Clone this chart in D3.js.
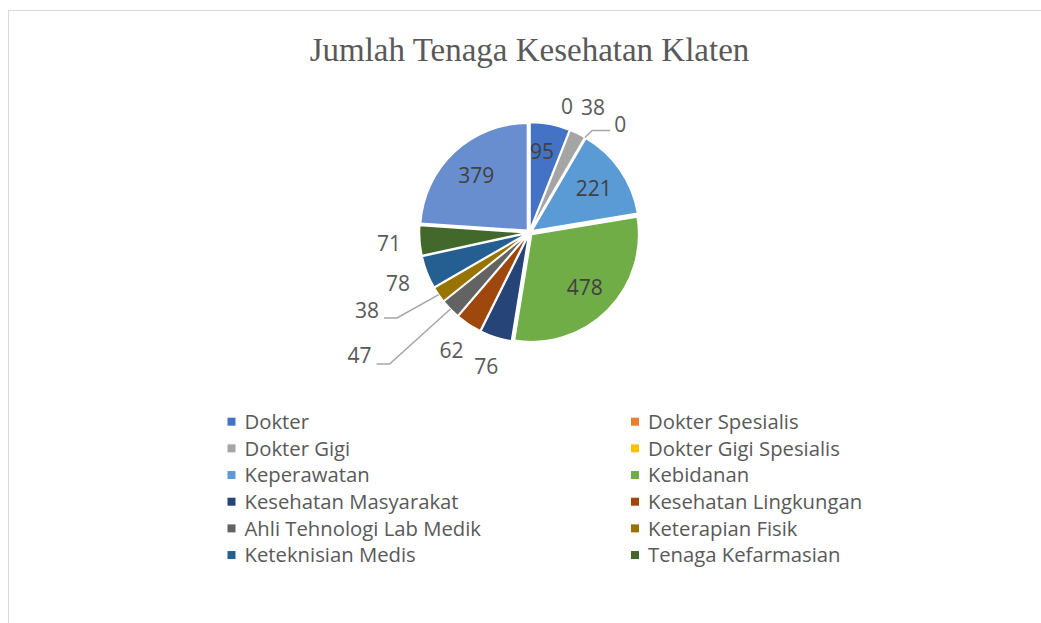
<!DOCTYPE html>
<html>
<head>
<meta charset="utf-8">
<script src="https://cdn.jsdelivr.net/npm/d3@7/dist/d3.min.js"></script>
<style>
  html, body { margin: 0; padding: 0; background: #ffffff; }
  svg { display: block; }
</style>
</head>
<body>
<svg id="chart" width="1041" height="623"></svg>
<script>
// ---- data ----
const title = "Jumlah Tenaga Kesehatan Klaten";
const categories = [
  "Dokter", "Dokter Spesialis", "Dokter Gigi", "Dokter Gigi Spesialis",
  "Keperawatan", "Kebidanan", "Kesehatan Masyarakat", "Kesehatan Lingkungan",
  "Ahli Tehnologi Lab Medik", "Keterapian Fisik", "Keteknisian Medis",
  "Tenaga Kefarmasian", "Lainnya"
];
const values = [95, 0, 38, 0, 221, 478, 76, 62, 47, 38, 78, 71, 379];
const colors = [
  "#4472C4", "#ED7D31", "#A5A5A5", "#FFC000",
  "#5B9BD5", "#70AD47", "#264478", "#9E480E",
  "#636363", "#997300", "#255E91", "#43682B", "#698ED0"
];
const legendCount = 12;           // entries shown in the legend
const insideLabels = ["Dokter", "Keperawatan", "Kebidanan", "Lainnya"];
// label placement tweaks (angle in degrees clockwise from 12 o'clock, radius in px)
const labelOverrides = {
  "Dokter": { angle: 8.7, radius: 82 },
  "Dokter Spesialis": { angle: 16.5, radius: 132 },
  "Dokter Gigi": { angle: 27, radius: 140 },
  "Dokter Gigi Spesialis": { angle: 40, radius: 141, leader: true },
  "Ahli Tehnologi Lab Medik": { angle: 234, radius: 210, leader: true },
  "Keterapian Fisik": { angle: 244.5, radius: 180, leader: true }
};

// ---- layout ----
const W = 1041, H = 623;
const cx = 529.5, cy = 232.5, R = 107, explode = 3;
const textColor = "#595959";
const fontSans = "'Open Sans', 'Noto Sans', sans-serif";

const svg = d3.select("#chart");

// chart border
svg.append("rect")
  .attr("x", 8.5).attr("y", 10.5)
  .attr("width", W + 20).attr("height", H + 20)
  .attr("fill", "#ffffff")
  .attr("stroke", "#d9d9d9").attr("stroke-width", 1);

// title
svg.append("text")
  .attr("x", cx).attr("y", 61)
  .attr("text-anchor", "middle")
  .attr("font-family", "'Liberation Serif', 'DejaVu Serif', serif")
  .attr("font-size", 33)
  .attr("fill", textColor)
  .text(title);

const data = categories.map((c, i) => ({ cat: c, value: values[i], color: colors[i] }));
const pie = d3.pie().sort(null).value(d => d.value).startAngle(0).endAngle(2 * Math.PI);
const arcs = pie(data);
const arc = d3.arc().innerRadius(0).outerRadius(R);

const g = svg.append("g").attr("transform", `translate(${cx},${cy})`);

const pt = (angle, r) => [r * Math.sin(angle), -r * Math.cos(angle)];

// slices
g.selectAll("path.slice")
  .data(arcs.filter(a => a.data.value > 0))
  .join("path")
  .attr("class", "slice")
  .attr("d", arc)
  .attr("transform", a => {
    const m = (a.startAngle + a.endAngle) / 2;
    const [dx, dy] = pt(m, explode);
    return `translate(${dx},${dy})`;
  })
  .attr("fill", a => a.data.color)
  .attr("stroke", "#ffffff")
  .attr("stroke-width", 1.5);

// labels
const labelG = g.append("g");
arcs.forEach(a => {
  const d = a.data;
  const mid = (a.startAngle + a.endAngle) / 2;
  let ang = mid, rad;
  const inside = insideLabels.includes(d.cat);
  const ov = labelOverrides[d.cat];
  rad = inside ? R * 0.73 : 141;
  if (ov) {
    ang = ov.angle * Math.PI / 180;
    rad = ov.radius;
  }
  const [lx, ly] = pt(ang, rad);
  const t = labelG.append("text")
    .attr("x", lx).attr("y", ly)
    .attr("dy", "0.36em")
    .attr("text-anchor", "middle")
    .attr("font-family", fontSans)
    .attr("font-size", 21)
    .attr("fill", inside ? "#404040" : textColor)
    .text(d.value);
  if (ov && ov.leader) {
    const hw = t.node().getComputedTextLength() / 2;
    const left = Math.sin(ang) < 0;
    const [sx, sy] = pt(mid, R + explode);
    const endX = left ? lx + hw + 5 : lx - hw - 4;
    const endY = ly + (left ? 8 : 6);
    const elbowX = left ? endX + 13 : endX - 18;
    labelG.insert("path", "text")
      .attr("d", `M${sx},${sy}L${elbowX},${endY}L${endX},${endY}`)
      .attr("fill", "none")
      .attr("stroke", "#a6a6a6")
      .attr("stroke-width", 1.5);
  }
});

// legend
const legendX = [227.5, 631];
const legendY0 = 421.7, legendDY = 26.67;
const leg = svg.append("g");
data.slice(0, legendCount).forEach((d, i) => {
  const col = i % 2, row = Math.floor(i / 2);
  const x = legendX[col], y = legendY0 + row * legendDY;
  leg.append("rect")
    .attr("x", x).attr("y", y - 4)
    .attr("width", 8).attr("height", 8)
    .attr("fill", d.color);
  leg.append("text")
    .attr("x", x + 17).attr("y", y)
    .attr("dy", "0.36em")
    .attr("font-family", fontSans)
    .attr("font-size", 20.3)
    .attr("fill", textColor)
    .text(d.cat);
});
</script>
</body>
</html>
